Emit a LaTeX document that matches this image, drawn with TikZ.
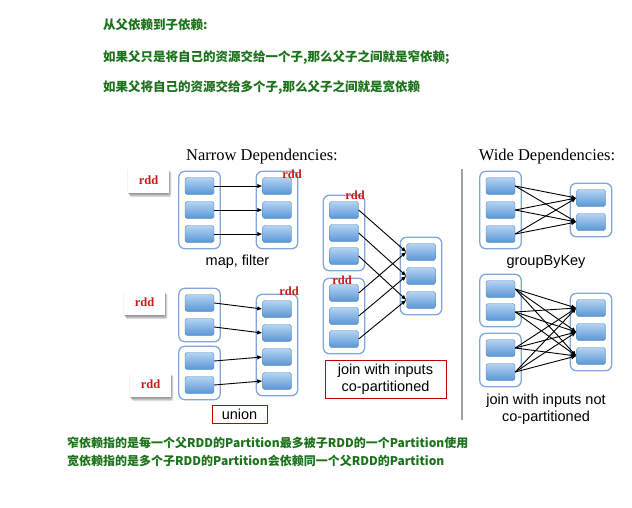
\documentclass[tikz,border=0pt]{standalone}
\usepackage{fontspec}
\setmainfont{Liberation Serif}
\setsansfont{Liberation Sans}
\newfontfamily\cjkfont{Noto Sans CJK SC}
\usetikzlibrary{arrows.meta,positioning,fit,backgrounds}
\definecolor{notegreen}{HTML}{1B721B}
\definecolor{rddred}{HTML}{D01818}
\definecolor{partline}{HTML}{4F7FB8}
\definecolor{parttop}{HTML}{B4D4F2}
\definecolor{partbot}{HTML}{5A96D6}
\definecolor{contline}{HTML}{7FA8D8}
\definecolor{sepgray}{HTML}{A0A0A0}
\tikzset{
  part/.style={draw=partline,top color=parttop,bottom color=partbot,rounded corners=2.5pt,
    minimum width=29pt,minimum height=17pt,inner sep=0pt},
  cont/.style={draw=contline,line width=1.3pt,rounded corners=6pt,inner xsep=6pt,inner ysep=6pt},
  dep/.style={-{Latex[length=5pt,width=4.5pt]},line width=0.9pt},
  rddtag/.style={fill=white,minimum width=41pt,minimum height=25pt,text=rddred,
    font=\bfseries\fontsize{12.5}{12.5}\selectfont},
  tagshade/.style={fill=black,opacity=0.12,rounded corners=1.5pt},
  rddmark/.style={text=rddred,font=\bfseries\fontsize{12.5}{12.5}\selectfont,inner sep=0pt},
  oplabel/.style={font=\sffamily\fontsize{14.5}{17}\selectfont,align=center,inner sep=0pt},
  opbox/.style={oplabel,draw=red!75!black,line width=0.8pt},
  note/.style={text=notegreen,font=\cjkfont\bfseries\fontsize{12.5}{15}\selectfont,anchor=west,inner sep=0pt},
  heading/.style={font=\fontsize{16.5}{20}\selectfont,inner sep=0pt}
}
\begin{document}
\begin{tikzpicture}[x=1pt,y=-1pt]
\useasboundingbox (0,0) rectangle (632,507);

% notes at the top and bottom
\node[note] (n1) at (103,25) {从父依赖到子依赖:};
\node[note] (n2) at (103,57) {如果父只是将自己的资源交给一个子,那么父子之间就是窄依赖;};
\node[note] (n3) at (103,87) {如果父将自己的资源交给多个子,那么父子之间就是宽依赖};
\node[note,font=\cjkfont\bfseries\fontsize{12}{14}\selectfont] (n4) at (67,443)
  {窄依赖指的是每一个父RDD的Partition最多被子RDD的一个Partition使用};
\node[note,font=\cjkfont\bfseries\fontsize{12}{14}\selectfont] (n5) at (67,461)
  {宽依赖指的是多个子RDD的Partition会依赖同一个父RDD的Partition};

\node[heading] (narrow) at (262,157) {Narrow Dependencies:};
\node[heading] (wide) at (547,157) {Wide Dependencies:};
\draw[sepgray,line width=2pt] (462,169) -- (462,420);

% map, filter
\foreach \i/\y in {1/186,2/210,3/234} {
  \node[part] (mfa\i) at (199.5,\y) {};
  \node[part] (mfb\i) at (277,\y) {};
  \draw[dep] (mfa\i.east) -- (mfb\i.west);
}
% union
\foreach \i/\y in {1/303,2/327} \node[part] (ua\i) at (199.5,\y) {};
\foreach \i/\y in {1/361,2/385} \node[part] (ub\i) at (199.5,\y) {};
\foreach \i/\y in {1/309,2/333,3/357,4/381} \node[part] (uc\i) at (277,\y) {};
\draw[dep] (ua1.east) -- (uc1.west);
\draw[dep] (ua2.east) -- (uc2.west);
\draw[dep] (ub1.east) -- (uc3.west);
\draw[dep] (ub2.east) -- (uc4.west);
% join with inputs co-partitioned
\foreach \i/\y/\z/\w in {1/210/293/252,2/233/316/276,3/256/339/300} {
  \node[part] (ja\i) at (344,\y) {};
  \node[part] (jb\i) at (344,\z) {};
  \node[part] (jc\i) at (421,\w) {};
}
\foreach \i in {1,2,3} {
  \draw[dep] (ja\i.east) -- (jc\i.west);
  \draw[dep] (jb\i.east) -- (jc\i.west);
}
% groupByKey
\foreach \i/\y in {1/186,2/210,3/234} \node[part] (ga\i) at (500.5,\y) {};
\foreach \i/\y in {1/198,2/222} \node[part] (gb\i) at (591,\y) {};
\foreach \i in {1,2,3} \foreach \j in {1,2} \draw[dep] (ga\i.east) -- (gb\j.west);
% join with inputs not co-partitioned
\foreach \i/\y in {1/289,2/312,3/348,4/372} \node[part] (wa\i) at (500.5,\y) {};
\foreach \i/\y in {1/308,2/332,3/356} \node[part] (wc\i) at (591,\y) {};
\foreach \i in {1,...,4} \foreach \j in {1,2,3} \draw[dep] (wa\i.east) -- (wc\j.west);

% labels
\node[oplabel] (mflabel) at (237.5,262) {map, filter};
\node[opbox,minimum width=55pt,minimum height=18pt] (ulabel) at (239.5,414) {union};
\node[opbox,minimum width=121pt,minimum height=38pt] (jlabel) at (385.5,379)
  {join with inputs\\co-partitioned};
\node[oplabel] (glabel) at (546,262) {groupByKey};
\node[oplabel] (wlabel) at (546,409) {join with inputs not\\co-partitioned};

% rdd tags
\node[rddtag] (tag1) at (148.5,180.5) {rdd};
\node[rddtag] (tag2) at (144.5,302.5) {rdd};
\node[rddtag] (tag3) at (150.5,384.5) {rdd};
\node[rddmark] (mk1) at (292,174) {rdd};
\node[rddmark] (mk2) at (289,291) {rdd};
\node[rddmark] (mk3) at (355,195) {rdd};
\node[rddmark] (mk4) at (342,280) {rdd};

\begin{scope}[on background layer]
\foreach \t in {tag1,tag2,tag3} \foreach \s in {1,2,3,4}
  \fill[tagshade] ([shift={(-1+\s*0.8,\s)}]\t.north west) rectangle ([shift={(-1+\s*0.8,\s)}]\t.south east);
\node[cont,fit=(mfa1)(mfa3)] (mfa) {};
\node[cont,fit=(mfb1)(mfb3)] (mfb) {};
\node[cont,fit=(ua1)(ua2)] (ua) {};
\node[cont,fit=(ub1)(ub2)] (ub) {};
\node[cont,fit=(uc1)(uc4)] (uc) {};
\node[cont,fit=(ja1)(ja3)] (ja) {};
\node[cont,fit=(jb1)(jb3)] (jb) {};
\node[cont,fit=(jc1)(jc3)] (jc) {};
\node[cont,fit=(ga1)(ga3)] (ga) {};
\node[cont,fit=(gb1)(gb2)] (gb) {};
\node[cont,fit=(wa1)(wa2)] (wa) {};
\node[cont,fit=(wa3)(wa4)] (wb) {};
\node[cont,fit=(wc1)(wc3)] (wc) {};
\end{scope}
\end{tikzpicture}
\end{document}
